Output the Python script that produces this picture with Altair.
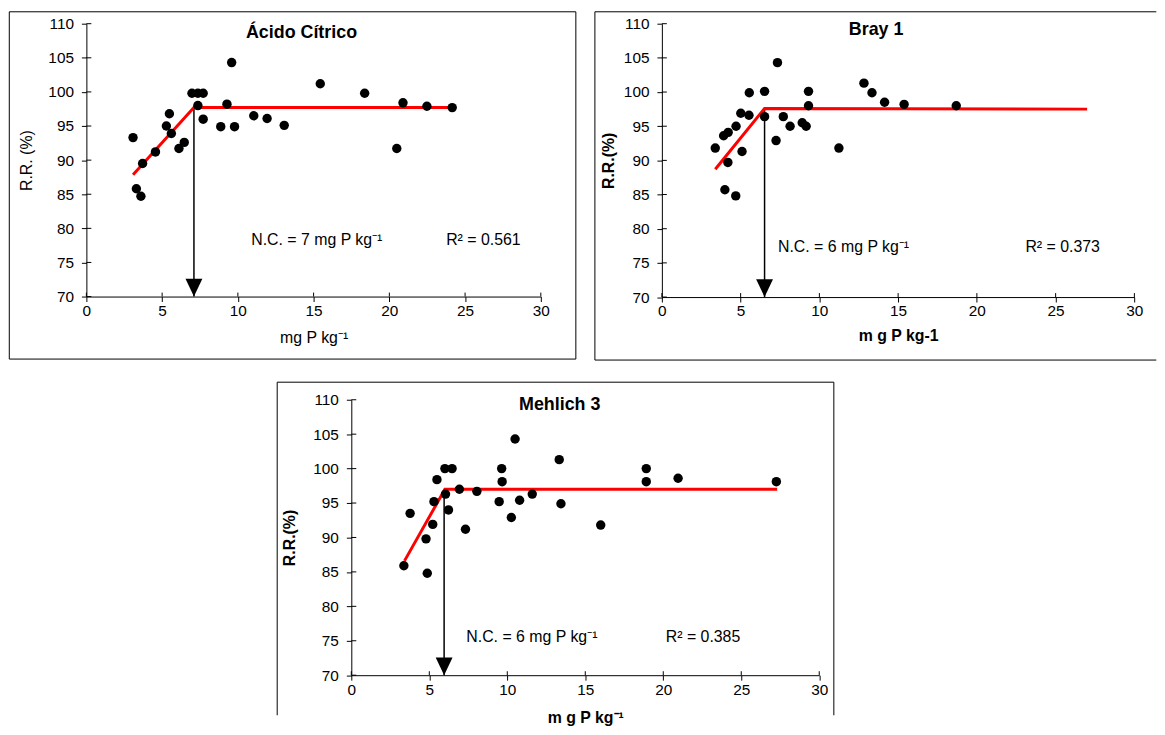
import altair as alt
import pandas as pd

FONT = "Liberation Sans"
RED = "#ff0000"

x_ticks = [0, 5, 10, 15, 20, 25, 30]
y_ticks = [70, 75, 80, 85, 90, 95, 100, 105, 110]

# ---- Ácido Cítrico ----
ac_x = [3.08, 3.30, 3.60, 3.71, 4.56, 5.28, 5.48, 5.61, 6.11, 6.46, 6.97, 7.36, 7.71, 7.36,
        7.71, 9.59, 9.28, 8.87, 9.78, 11.05, 11.93, 13.06, 15.44, 18.37, 20.49, 20.90, 22.48, 24.15]
ac_y = [93.3, 85.8, 84.7, 89.5, 91.2, 95.0, 96.8, 93.9, 91.7, 92.6, 99.8, 99.8, 99.8, 98.0,
        96.0, 104.3, 98.2, 94.9, 94.9, 96.5, 96.1, 95.1, 101.2, 99.8, 91.7, 98.4, 97.9, 97.7]
ac_fit_x = [3.08, 7.10, 24.15]
ac_fit_y = [87.85, 97.7, 97.7]
ac_nc = 7.10
ac_plateau = 97.7

# ---- Bray 1 ----
br_x = [3.39, 3.92, 4.21, 4.19, 4.00, 4.69, 4.71, 5.01, 5.09, 5.53, 5.55, 6.52, 6.52, 7.25,
        7.34, 7.71, 8.14, 8.91, 9.16, 9.31, 9.31, 11.24, 12.83, 13.34, 14.14, 15.38, 18.69]
br_y = [91.8, 93.6, 94.1, 89.7, 85.7, 84.8, 95.0, 96.9, 91.3, 96.6, 99.9, 100.1, 96.4, 92.9,
        104.3, 96.4, 95.0, 95.5, 95.0, 100.1, 98.0, 91.8, 101.3, 99.9, 98.5, 98.2, 98.0]
br_fit_x = [3.39, 6.52, 27.0]
br_fit_y = [88.7, 97.6, 97.5]
br_nc = 6.52
br_plateau = 97.6

# ---- Mehlich 3 ----
me_x = [3.37, 3.77, 4.79, 4.87, 5.22, 5.30, 5.49, 6.00, 6.46, 6.04, 6.23, 6.93, 7.32, 8.05,
        9.48, 9.64, 9.67, 10.26, 10.50, 10.79, 11.60, 13.33, 13.44, 15.99, 18.91, 18.91, 20.95, 27.25]
me_y = [85.9, 93.5, 89.8, 84.8, 91.9, 95.2, 98.4, 100.0, 100.0, 96.3, 94.0, 97.0, 91.2, 96.7,
        95.2, 100.0, 98.1, 92.9, 104.3, 95.4, 96.3, 101.3, 94.9, 91.8, 100.0, 98.1, 98.6, 98.1]
me_fit_x = [3.41, 6.00, 27.3]
me_fit_y = [86.6, 97.0, 97.0]
me_nc = 5.95
me_plateau = 97.0

titles = ["Ácido Cítrico", "Bray 1", "Mehlich 3"]
nc_labels = ["N.C. = 7 mg P kg⁻¹", "N.C. = 6 mg P kg⁻¹", "N.C. = 6 mg P kg⁻¹"]
r2_labels = ["R² = 0.561", "R² = 0.373", "R² = 0.385"]
x_titles = ["mg P kg⁻¹", "m g P kg-1", "m g P kg⁻¹"]
y_titles = ["R.R. (%)", "R.R.(%)", "R.R.(%)"]


def make_panel(px, py, fx, fy, nc, plateau, title, title_xy, nc_lab, r2_lab, ann_y, nc_x, r2_x,
               xtitle, xbold, xtitle_y, ytitle, ybold, ytitle_x, W, H, frame, sides):
    xs = alt.Scale(domain=[0, 30], nice=False, zero=False)
    ys = alt.Scale(domain=[70, 110], nice=False, zero=False)
    xaxis = alt.Axis(values=x_ticks, title=xtitle, format="d", labelFlush=False,
                     titleFontWeight="bold" if xbold else "normal",
                     titleY=xtitle_y, titleBaseline="middle")
    yaxis = alt.Axis(values=y_ticks, title=ytitle, format="d",
                     titleFontWeight="bold" if ybold else "normal",
                     titleX=ytitle_x, titleY=H / 2, titleBaseline="middle")

    def X(f):
        return alt.X(f, type="quantitative", scale=xs, axis=xaxis)

    def Y(f):
        return alt.Y(f, type="quantitative", scale=ys, axis=yaxis)

    one = pd.DataFrame({"a": [0]})
    fl, fr, ft, fb = frame
    layers = []
    # panel frame (only the sides that are visible in the picture)
    if "left" in sides:
        layers.append(alt.Chart(one).mark_rule(color="black", strokeWidth=1).encode(
            x=alt.value(fl), y=alt.value(ft), y2=alt.value(fb)))
    if "right" in sides:
        layers.append(alt.Chart(one).mark_rule(color="black", strokeWidth=1).encode(
            x=alt.value(fr), y=alt.value(ft), y2=alt.value(fb)))
    if "top" in sides:
        layers.append(alt.Chart(one).mark_rule(color="black", strokeWidth=1).encode(
            x=alt.value(fl), x2=alt.value(fr), y=alt.value(ft)))
    if "bottom" in sides:
        layers.append(alt.Chart(one).mark_rule(color="black", strokeWidth=1).encode(
            x=alt.value(fl), x2=alt.value(fr), y=alt.value(fb)))

    # inward half of the crossing ticks
    layers.append(alt.Chart(pd.DataFrame({"t": y_ticks})).mark_rule(color="black", strokeWidth=1).encode(
        y=Y("t"), x=alt.value(0), x2=alt.value(5)))
    layers.append(alt.Chart(pd.DataFrame({"t": x_ticks})).mark_rule(color="black", strokeWidth=1).encode(
        x=X("t"), y=alt.value(H), y2=alt.value(H - 4)))

    # arrow
    layers.append(alt.Chart(pd.DataFrame({"x": [nc], "y": [70], "y2": [plateau]})).mark_rule(
        color="black", strokeWidth=1.5).encode(x=X("x"), y=Y("y"), y2="y2"))
    layers.append(alt.Chart(pd.DataFrame({"x": [nc], "y": [70]})).mark_point(
        shape="M-1,-2.1L1,-2.1L0,0Z", size=289, filled=True, color="black", opacity=1,
        strokeWidth=0).encode(x=X("x"), y=Y("y")))

    # fitted linear-plateau
    layers.append(alt.Chart(pd.DataFrame({"x": fx, "y": fy})).mark_line(
        color=RED, strokeWidth=3).encode(x=X("x"), y=Y("y")))

    # observed points
    layers.append(alt.Chart(pd.DataFrame({"x": px, "y": py})).mark_circle(
        size=90, color="black", opacity=1).encode(x=X("x"), y=Y("y")))

    # title
    layers.append(alt.Chart(pd.DataFrame({"x": [title_xy[0]], "y": [title_xy[1]], "t": [title]})).mark_text(
        font=FONT, fontSize=18, fontWeight="bold", align="center", baseline="middle", color="black").encode(
        x=X("x"), y=Y("y"), text="t:N"))

    # annotations
    layers.append(alt.Chart(pd.DataFrame({"x": [nc_x, r2_x], "y": [ann_y, ann_y], "t": [nc_lab, r2_lab]})).mark_text(
        font=FONT, fontSize=16, align="left", baseline="middle", color="black").encode(
        x=X("x"), y=Y("y"), text="t:N"))

    return alt.layer(*layers).properties(width=W, height=H)


W1, H1 = 458, 275
W2, H2 = 476.2, 275.5
W3, H3 = 471.6, 277.6

p1 = make_panel(ac_x, ac_y, ac_fit_x, ac_fit_y, ac_nc, ac_plateau, titles[0], (14.2, 108.7),
                nc_labels[0], r2_labels[0], 78.25, 10.88, 23.75,
                x_titles[0], False, 41, y_titles[0], False, -60, W1, H1,
                (-77.7, W1 + 35.3, -12, H1 + 63), ("left", "right", "top", "bottom"))
p2 = make_panel(br_x, br_y, br_fit_x, br_fit_y, br_nc, br_plateau, titles[1], (13.6, 109.1),
                nc_labels[1], r2_labels[1], 77.25, 7.37, 23.08,
                x_titles[1], True, 39, y_titles[1], True, -53.5, W2, H2,
                (-67.5, 498.3, -12, H2 + 63.5), ("left", "top", "bottom"))
p3 = make_panel(me_x, me_y, me_fit_x, me_fit_y, me_nc, me_plateau, titles[2], (13.36, 109.3),
                nc_labels[2], r2_labels[2], 75.6, 7.37, 20.16,
                x_titles[2], True, 42.4, y_titles[2], True, -62.4, W3, H3,
                (-74.7, W3 + 14.7, -17.7, 318), ("left", "right", "top"))

spacer = alt.Chart(pd.DataFrame({"a": [0]})).mark_point(opacity=0).encode(
    x=alt.value(0), y=alt.value(0)).properties(width=180.8, height=10)

row1 = alt.hconcat(p1, p2, spacing=18)
row2 = alt.hconcat(spacer, p3, spacing=10)

chart = alt.vconcat(row1, row2, spacing=20).properties(padding=0).configure_view(
    strokeWidth=0
).configure_axis(
    labelFont=FONT, labelFontSize=15.5, labelColor="black",
    titleFont=FONT, titleFontSize=16, titleColor="black",
    domainColor="black", domainWidth=1, tickColor="black", tickWidth=1, tickSize=5,
    grid=False
).configure_axisX(labelPadding=2).configure_axisY(labelPadding=8)

chart.save("out.html", embed_options={"renderer": "svg", "actions": False})
